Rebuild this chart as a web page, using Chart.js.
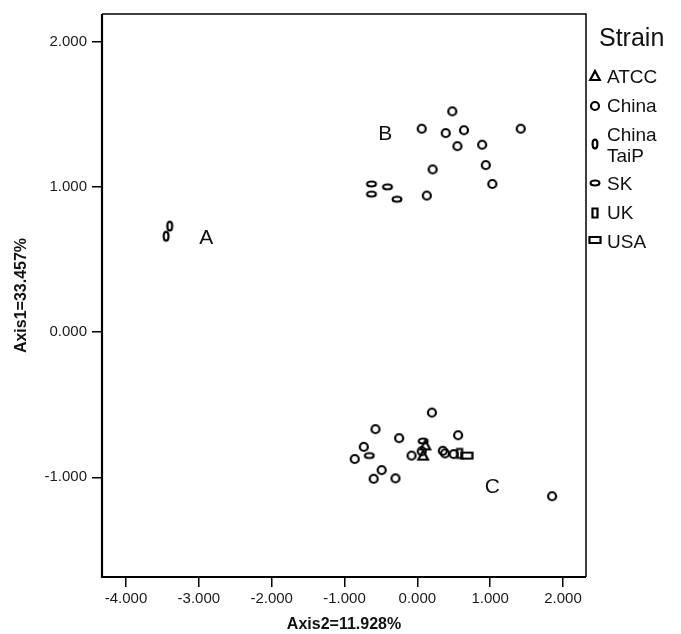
<!DOCTYPE html>
<html>
<head>
<meta charset="utf-8">
<script src="https://cdn.jsdelivr.net/npm/chart.js@4.4.0/dist/chart.umd.min.js"></script>
<style>
  body { margin: 0; background: #fff; }
</style>
</head>
<body>
<canvas id="scatter" width="681" height="634"></canvas>
<script>
// values
var atccX = [0.11, 0.08];
var atccY = [-0.78, -0.85];

var chinaX = [0.48, 0.06, 0.39, 0.64, 1.42, 0.55, 0.89, 0.21, 0.94, 1.03, 0.13,
              0.20, -0.575, -0.25, 0.56, -0.735, -0.86, -0.08, 0.35, 0.38, 0.50, 0.06, -0.49, -0.60, -0.30, 1.85];
var chinaY = [1.52, 1.40, 1.37, 1.39, 1.40, 1.28, 1.29, 1.12, 1.15, 1.02, 0.94,
              -0.554, -0.668, -0.73, -0.71, -0.79, -0.874, -0.85, -0.817, -0.835, -0.84, -0.82, -0.95, -1.01, -1.007, -1.13];

var taipX = [-3.40, -3.45];
var taipY = [0.73, 0.66];

var skX = [-0.63, -0.63, -0.41, -0.28, -0.66, 0.08];
var skY = [1.02, 0.95, 1.00, 0.915, -0.85, -0.75];

var ukX = [0.58];
var ukY = [-0.835];

var usaX = [0.68];
var usaY = [-0.85];

var xTicks = [-4, -3, -2, -1, 0, 1, 2];
var yTicks = [-1, 0, 1, 2];

var groupText = ['A', 'B', 'C'];
var groupX = [-2.90, -0.44, 1.03];
var groupY = [0.645, 1.36, -1.07];

var legendNames = [['ATCC'], ['China'], ['China', 'TaiP'], ['SK'], ['UK'], ['USA']];

function zip(xs, ys) {
  return xs.map(function (x, i) { return { x: x, y: ys[i] }; });
}

// hollow marker glyphs
function marker(kind) {
  var c = document.createElement('canvas');
  c.width = 14; c.height = 14;
  var g = c.getContext('2d');
  g.strokeStyle = '#000';
  g.lineWidth = 2.2;
  g.beginPath();
  if (kind == 'tri') {
    g.moveTo(7, 2); g.lineTo(11.8, 11); g.lineTo(2.2, 11); g.closePath();
  } else if (kind == 'circle') {
    g.arc(7, 7, 4, 0, Math.PI * 2);
  } else if (kind == 'vell') {
    g.ellipse(7, 7, 2.4, 4.4, 0, 0, Math.PI * 2);
  } else if (kind == 'hell') {
    g.ellipse(7, 7, 4.4, 2.5, 0, 0, Math.PI * 2);
  } else if (kind == 'vrect') {
    g.rect(4.5, 2.5, 5, 9);
  } else if (kind == 'hrect') {
    g.rect(1.5, 4, 11, 6);
  }
  g.stroke();
  return c;
}

var markers = [marker('tri'), marker('circle'), marker('vell'), marker('hell'), marker('vrect'), marker('hrect')];

function ds(label, xs, ys, m) {
  return {
    label: label,
    data: zip(xs, ys),
    pointStyle: m,
    pointRadius: 5,
    backgroundColor: 'transparent',
    borderColor: '#000'
  };
}

var framePlugin = {
  id: 'frame',
  afterDatasetsDraw: function (chart) {
    var a = chart.chartArea, ctx = chart.ctx;
    ctx.save();
    ctx.strokeStyle = '#000';
    ctx.lineWidth = 1.5;
    ctx.beginPath();
    ctx.moveTo(a.left, a.top); ctx.lineTo(a.right, a.top); ctx.lineTo(a.right, a.bottom);
    ctx.stroke();
    ctx.lineWidth = 2.2;
    ctx.beginPath();
    ctx.moveTo(a.left, a.top); ctx.lineTo(a.left, a.bottom); ctx.lineTo(a.right, a.bottom);
    ctx.stroke();

    // cluster letters
    var xs = chart.scales.x, ys = chart.scales.y;
    ctx.fillStyle = '#111';
    ctx.font = '21px "Liberation Sans", Arial, sans-serif';
    ctx.textAlign = 'center';
    ctx.textBaseline = 'middle';
    groupText.forEach(function (t, i) {
      ctx.fillText(t, xs.getPixelForValue(groupX[i]), ys.getPixelForValue(groupY[i]));
    });
    ctx.restore();
  }
};

var legendPlugin = {
  id: 'strainLegend',
  afterDraw: function (chart) {
    var ctx = chart.ctx;
    ctx.save();
    ctx.fillStyle = '#111';
    ctx.textBaseline = 'middle';
    ctx.textAlign = 'left';
    ctx.font = '25px "Liberation Sans", Arial, sans-serif';
    ctx.fillText('Strain', 599, 39);
    ctx.font = '19px "Liberation Sans", Arial, sans-serif';
    var textY = [[78], [107], [136, 157], [185], [214], [243]];
    var markY = [76, 106, 144, 183, 213, 240];
    legendNames.forEach(function (lines, i) {
      var m = markers[i];
      ctx.drawImage(m, 595 - m.width / 2, markY[i] - m.height / 2);
      lines.forEach(function (ln, j) {
        ctx.fillText(ln, 607, textY[i][j]);
      });
    });
    ctx.restore();
  }
};

var tickFont = { family: '"Liberation Sans", Arial, sans-serif', size: 15 };
var titleFont = { family: '"Liberation Sans", Arial, sans-serif', size: 16, weight: 'bold' };

new Chart(document.getElementById('scatter'), {
  type: 'scatter',
  data: {
    datasets: [
      ds('ATCC', atccX, atccY, markers[0]),
      ds('China', chinaX, chinaY, markers[1]),
      ds('China TaiP', taipX, taipY, markers[2]),
      ds('SK', skX, skY, markers[3]),
      ds('UK', ukX, ukY, markers[4]),
      ds('USA', usaX, usaY, markers[5])
    ]
  },
  options: {
    responsive: false,
    animation: false,
    layout: { padding: { top: 12, right: 95, left: 0, bottom: 0 } },
    plugins: {
      legend: { display: false },
      tooltip: { enabled: false }
    },
    scales: {
      x: {
        type: 'linear',
        min: -4.33,
        max: 2.316,
        afterFit: function (s) { s.height = 57; },
        afterBuildTicks: function (s) { s.ticks = xTicks.map(function (v) { return { value: v }; }); },
        grid: { drawOnChartArea: false, drawTicks: true, tickLength: 10, color: '#000', lineWidth: 1.5 },
        border: { display: false },
        ticks: {
          padding: 3,
          color: '#1a1a1a',
          font: tickFont,
          maxRotation: 0,
          callback: function (v) { return Number(v).toFixed(3); }
        },
        title: {
          display: true,
          text: 'Axis2=11.928%',
          color: '#111',
          padding: { top: 0, bottom: 0 },
          font: titleFont
        }
      },
      y: {
        type: 'linear',
        min: -1.686,
        max: 2.19,
        afterFit: function (s) { s.width = 102; },
        afterBuildTicks: function (s) { s.ticks = yTicks.map(function (v) { return { value: v }; }); },
        grid: { drawOnChartArea: false, drawTicks: true, tickLength: 10, color: '#000', lineWidth: 1.5 },
        border: { display: false },
        ticks: {
          padding: 5,
          color: '#1a1a1a',
          font: tickFont,
          callback: function (v) { return Number(v).toFixed(3); }
        },
        title: {
          display: true,
          text: 'Axis1=33.457%',
          color: '#111',
          padding: { top: 12, bottom: 0 },
          font: titleFont
        }
      }
    }
  },
  plugins: [framePlugin, legendPlugin]
});
</script>
</body>
</html>
